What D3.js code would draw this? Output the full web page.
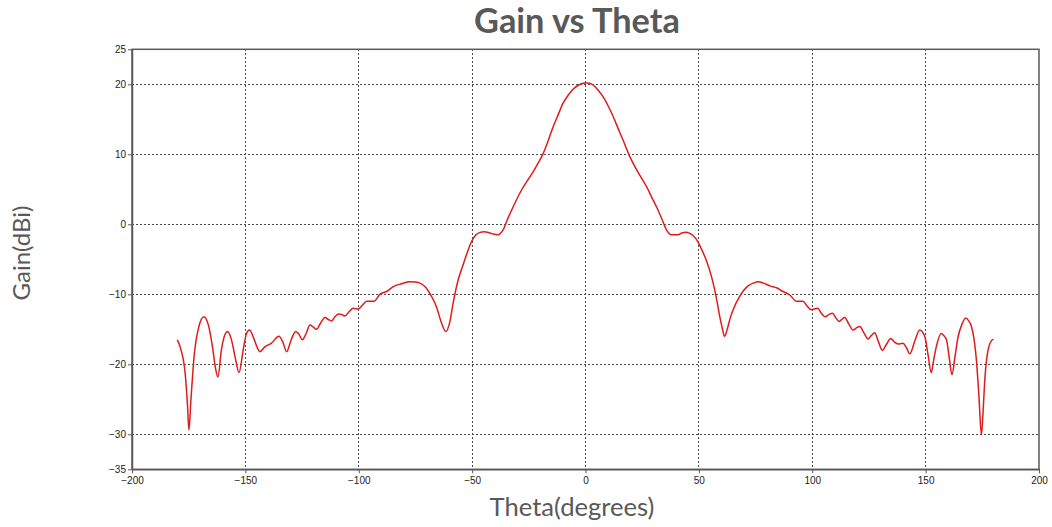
<!DOCTYPE html>
<html>
<head>
<meta charset="utf-8">
<script src="https://cdn.jsdelivr.net/npm/d3@7"></script>
<style>
  html, body { margin: 0; padding: 0; background: #fff; }
  svg { display: block; }
</style>
</head>
<body>
<svg id="chart" width="1052" height="527"></svg>
<script>
// ---- Data ----
const chartTitle = "Gain vs Theta";
const xAxisTitle = "Theta(degrees)";
const yAxisTitle = "Gain(dBi)";
const xTicks = [-200, -150, -100, -50, 0, 50, 100, 150, 200];
const yTicks = [-35, -30, -20, -10, 0, 10, 20, 25];
const xGrid = [-150, -100, -50, 0, 50, 100, 150];
const yGrid = [-30, -20, -10, 0, 10, 20];

const theta = [
  -180, -178.5, -176.5, -175.5, -174.9, -174, -172.5, -170.5, -168.3, -166.3,
  -164.5, -163.2, -162.1, -160.6, -158.8, -157.8, -156.3, -154.5, -152.8, -151,
  -149.5, -148.2, -146.3, -144.5, -143.6, -141.4, -138.6, -135.2, -133.5, -131.8,
  -129.8, -127.8, -126.4, -124.9, -123.2, -121.5, -120, -118.6, -116.8, -114.9,
  -113.4, -112, -110.5, -108.8, -107.4, -106.1, -104.3, -102.5, -100.2, -98.5,
  -96.5, -93.3, -90.7, -87.7, -84.8, -81.1, -77.5, -75, -73, -70.5,
  -68.6, -65.7, -63.5, -61.6, -59.8, -58.4, -56.2, -54, -52, -50.3,
  -48.3, -46.5, -44.7, -42.5, -40.7, -38.5, -37, -36, -34.8, -31.9,
  -28.2, -25.5, -23.1, -20.8, -18.7, -16.5, -14.3, -12, -9.9, -7.5,
  -5.5, -3, -0.5, 1, 3.4, 5.5, 7.8, 10, 12.2, 14.5,
  16.6, 19.5, 22.5, 24.5, 26.9, 29, 31.3, 33.5, 35.7, 37.9,
  40.8, 42.5, 44.2, 46, 47.4, 49.6, 50.8, 52.6, 54.5, 56.3,
  58, 59.2, 60.3, 61.3, 62.5, 63.8, 65.1, 68, 71.7, 74,
  76.3, 78.5, 81.3, 84.5, 87.1, 90.1, 93.1, 95.9, 97.8, 99.6,
  102.4, 104, 105.7, 107.3, 108.9, 110.5, 111.8, 113, 114.3, 116.2,
  118, 119.5, 120.9, 122.8, 124.6, 126, 127.5, 129.2, 130.9, 132.8,
  134.6, 136.2, 137.8, 140, 141.5, 143, 145.3, 147.4, 149.6, 151,
  152.5, 153.6, 154.7, 156.9, 158, 159.2, 160.5, 161.6, 163, 164.3,
  166, 167.7, 169, 170.2, 171.4, 172.4, 173.5, 174.6, 175.3, 176,
  177.5, 179.4, 180
];
const gain = [
  -16.5, -17.8, -21.5, -26, -29.4, -25, -18.5, -14.6, -13.2, -14.4,
  -17.5, -20.5, -21.8, -18, -15.6, -15.3, -16.3, -19, -21.2, -18,
  -15.6, -15.1, -16.3, -17.8, -18.2, -17.5, -17, -16, -16.8, -18.2,
  -16.5, -15.3, -15.7, -16.5, -15.6, -14.4, -14.7, -15, -14.1, -13.3,
  -13.6, -13.8, -13.2, -12.8, -12.9, -13.1, -12.5, -12, -12.1, -11.6,
  -11, -11, -10, -9.6, -8.9, -8.5, -8.2, -8.25, -8.4, -9,
  -9.9, -11.8, -14.1, -15.3, -13.9, -11.3, -8, -5.8, -3.9, -2.5,
  -1.5, -1.15, -1.05, -1.2, -1.4, -1.5, -1.1, -0.6, 0.4, 2.5,
  4.9, 6.3, 7.5, 8.8, 10.1, 11.9, 13.9, 15.7, 17.3, 18.5,
  19.3, 19.9, 20.2, 20.2, 19.9, 19.2, 18.2, 16.9, 15.4, 13.6,
  12, 9.7, 7.8, 6.7, 5.4, 4, 2.5, 0.9, -0.8, -1.5,
  -1.5, -1.25, -1.15, -1.3, -1.6, -2.5, -3.3, -4.6, -6.3, -8.4,
  -11, -13.2, -14.8, -16, -15, -13.4, -12.2, -10.3, -8.8, -8.4,
  -8.2, -8.4, -8.8, -9.1, -9.6, -10.1, -11, -11, -11.7, -12.2,
  -12, -12.7, -13.2, -12.9, -12.7, -13.4, -13.9, -13.6, -13.3, -14.3,
  -15.1, -14.8, -14.6, -15.5, -16.4, -15.9, -15.5, -16.8, -18, -17.1,
  -16.3, -16.8, -17.1, -17, -17.6, -18.5, -16.6, -15.1, -16, -18.5,
  -21.2, -19.3, -17.5, -15.6, -15.9, -16.5, -19.3, -21.5, -18.8, -16.1,
  -14.3, -13.4, -13.8, -14.6, -16.5, -19.4, -24.5, -30.1, -27, -22.7,
  -18, -16.5, -16.4
];

// ---- Layout ----
const svg = d3.select("#chart");
const plotLeft = 132, plotRight = 1039, plotTop = 49.3, plotBottom = 469.3;

const x = d3.scaleLinear().domain([-200, 200]).range([plotLeft, plotRight]);
const y = d3.scaleLinear().domain([-35, 25]).range([plotBottom, plotTop]);

// gridlines
svg.append("g").selectAll("line").data(xGrid).join("line")
  .attr("x1", d => x(d)).attr("x2", d => x(d))
  .attr("y1", plotTop).attr("y2", plotBottom)
  .attr("stroke", "#4a4a4a").attr("stroke-width", 1)
  .attr("stroke-dasharray", "2,2").attr("shape-rendering", "crispEdges");
svg.append("g").selectAll("line").data(yGrid).join("line")
  .attr("x1", plotLeft).attr("x2", plotRight)
  .attr("y1", d => y(d)).attr("y2", d => y(d))
  .attr("stroke", "#4a4a4a").attr("stroke-width", 1)
  .attr("stroke-dasharray", "2,2").attr("shape-rendering", "crispEdges");

// frame
svg.append("rect")
  .attr("x", plotLeft).attr("y", plotTop)
  .attr("width", plotRight - plotLeft).attr("height", plotBottom - plotTop)
  .attr("fill", "none").attr("stroke", "#5a5a5a").attr("stroke-width", 1.5);

// axes
const tickFont = "'Liberation Sans Narrow', 'Arial Narrow', 'Liberation Sans', sans-serif";
const xAxis = svg.append("g")
  .attr("transform", `translate(0,${plotBottom})`)
  .call(d3.axisBottom(x).tickValues(xTicks).tickSize(4).tickSizeOuter(0).tickFormat(d3.format("d")));
const yAxis = svg.append("g")
  .attr("transform", `translate(${plotLeft},0)`)
  .call(d3.axisLeft(y).tickValues(yTicks).tickSize(4).tickSizeOuter(0).tickFormat(d3.format("d")));
[xAxis, yAxis].forEach(g => {
  g.select(".domain").attr("stroke", "#5a5a5a").attr("stroke-width", 1.5);
  g.selectAll(".tick line").attr("stroke", "#5a5a5a");
  g.selectAll(".tick text").attr("fill", "#222").style("font-family", tickFont).style("font-size", "10px");
});
xAxis.selectAll(".tick text").attr("dy", "0.71em").attr("y", 8);
yAxis.selectAll(".tick text").attr("x", -6);

// data line
const pts = theta.map((t, i) => [t, gain[i]]);
const line = d3.line().x(d => x(d[0])).y(d => y(d[1])).curve(d3.curveMonotoneX);
svg.append("path").datum(pts)
  .attr("d", line)
  .attr("fill", "none").attr("stroke", "#e01b1b").attr("stroke-width", 1.5)
  .attr("stroke-linejoin", "round");

// text helper: fit to target width
function fitWidth(sel, target) {
  const base = 100;
  sel.style("font-size", base + "px");
  const w = sel.node().getComputedTextLength();
  sel.style("font-size", (base * target / w) + "px");
}

const title = svg.append("text")
  .attr("x", 577).attr("y", 33)
  .attr("text-anchor", "middle")
  .attr("fill", "#595959")
  .style("font-family", "Lato, 'Open Sans', sans-serif")
  .style("font-weight", "bold")
  .text(chartTitle);
fitWidth(title, 206);

const xt = svg.append("text")
  .attr("x", 572).attr("y", 516)
  .attr("text-anchor", "middle")
  .attr("fill", "#595959")
  .style("font-family", "Lato, 'Open Sans', sans-serif")
  .text(xAxisTitle);
fitWidth(xt, 165);

const yt = svg.append("text")
  .attr("transform", "translate(30,253) rotate(-90)")
  .attr("text-anchor", "middle")
  .attr("fill", "#595959")
  .style("font-family", "Lato, 'Open Sans', sans-serif")
  .text(yAxisTitle);
fitWidth(yt, 95);
</script>
</body>
</html>
